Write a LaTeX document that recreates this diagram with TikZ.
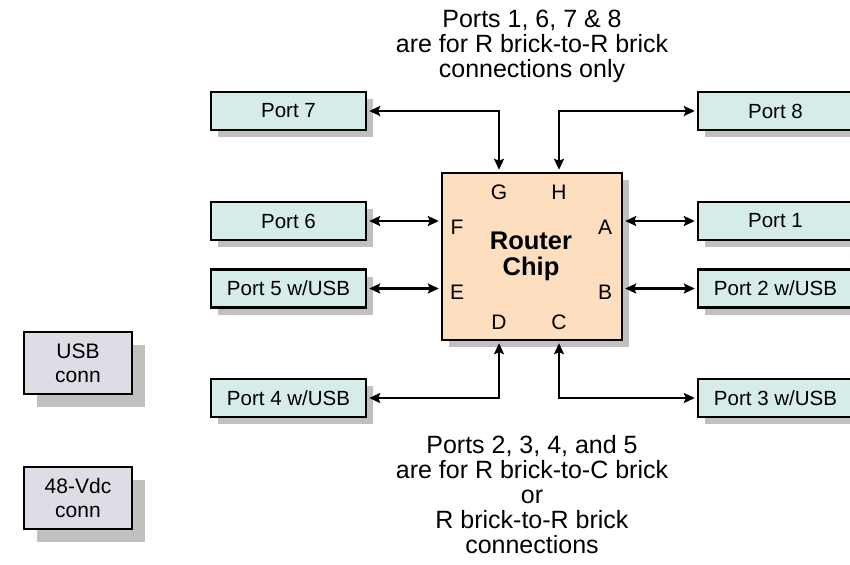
\documentclass[tikz,border=0pt]{standalone}
\usepackage{fontspec}
\setmainfont{Liberation Sans}
\usetikzlibrary{arrows.meta,shadows}
\definecolor{portfill}{RGB}{214,236,233}
\definecolor{chipfill}{RGB}{253,222,191}
\definecolor{connfill}{RGB}{222,221,229}
\definecolor{shadowgray}{RGB}{192,192,192}
\tikzset{
  portbox/.style={draw=black, line width=2.4bp, fill=portfill, minimum width=155bp, minimum height=38bp, inner sep=0pt,
    font=\fontsize{20.5bp}{24bp}\selectfont,
    drop shadow={shadow xshift=7bp, shadow yshift=-7bp, fill=shadowgray, opacity=1}},
  connbox/.style={draw=black, line width=2.4bp, fill=connfill, minimum width=108bp, minimum height=62bp, inner sep=0pt,
    align=center, font=\fontsize{21bp}{24bp}\selectfont,
    drop shadow={shadow xshift=13bp, shadow yshift=-13bp, fill=shadowgray, opacity=1}},
  chipbox/.style={draw=black, line width=2.4bp, fill=chipfill, minimum width=180bp, minimum height=167bp, inner sep=0pt,
    drop shadow={shadow xshift=7bp, shadow yshift=-7bp, fill=shadowgray, opacity=1}},
  pinlbl/.style={inner sep=0pt, font=\fontsize{21bp}{24bp}\selectfont},
  note/.style={align=center, inner sep=0pt, anchor=base, font=\fontsize{25bp}{25bp}\selectfont},
  link/.style={line width=2.2bp, {Stealth[length=11bp,width=10bp,inset=2bp]}-{Stealth[length=11bp,width=10bp,inset=2bp]}, shorten <=2bp, shorten >=2bp}
}
\begin{document}
\begin{tikzpicture}[x=1bp,y=-1bp]
\useasboundingbox (0,0) rectangle (850,565);

% ports
\node[portbox] (p7) at (288.5,111) {Port 7};
\node[portbox] (p6) at (288.5,221) {Port 6};
\node[portbox] (p5) at (288.5,288.5) {Port 5 w/USB};
\node[portbox] (p4) at (288.5,398) {Port 4 w/USB};
\node[portbox] (p8) at (775.5,111) {Port 8};
\node[portbox] (p1) at (775.5,221) {Port 1};
\node[portbox] (p2) at (775.5,288.5) {Port 2 w/USB};
\node[portbox] (p3) at (775.5,398) {Port 3 w/USB};

% chip
\node[chipbox] (chip) at (532,256.5) {};
\node[align=center, inner sep=0pt, font=\fontsize{25.5bp}{25bp}\selectfont\bfseries, anchor=base] (rc) at (531,275) {Router\\Chip};
\node[pinlbl] (G) at (499,192) {G};
\node[pinlbl] (H) at (559,192) {H};
\node[pinlbl] (F) at (457,227) {F};
\node[pinlbl] (A) at (605,227) {A};
\node[pinlbl] (E) at (457,292) {E};
\node[pinlbl] (B) at (605,292) {B};
\node[pinlbl] (D) at (499,322) {D};
\node[pinlbl] (C) at (559,322) {C};

% connectors
\draw[link] (p7.east) -| (G.center |- chip.north);
\draw[link] (p8.west) -| (H.center |- chip.north);
\draw[link] (p6.east) -- (p6.east -| chip.west);
\draw[link] (p5.east) -- (p5.east -| chip.west);
\draw[link] (p1.west) -- (p1.west -| chip.east);
\draw[link] (p2.west) -- (p2.west -| chip.east);
\draw[link] (p4.east) -| (D.center |- chip.south);
\draw[link] (p3.west) -| (C.center |- chip.south);

% connectors boxes
\node[connbox] (usb) at (78,363) {USB\\conn};
\node[connbox] (vdc) at (78,498) {48-Vdc\\conn};

% notes
\node[note] (top) at (532,78) {Ports 1, 6, 7 \& 8\\are for R brick-to-R brick\\connections only};
\node[note] (bot) at (532,553) {Ports 2, 3, 4, and 5\\are for R brick-to-C brick\\or\\R brick-to-R brick\\connections};
\end{tikzpicture}
\end{document}
